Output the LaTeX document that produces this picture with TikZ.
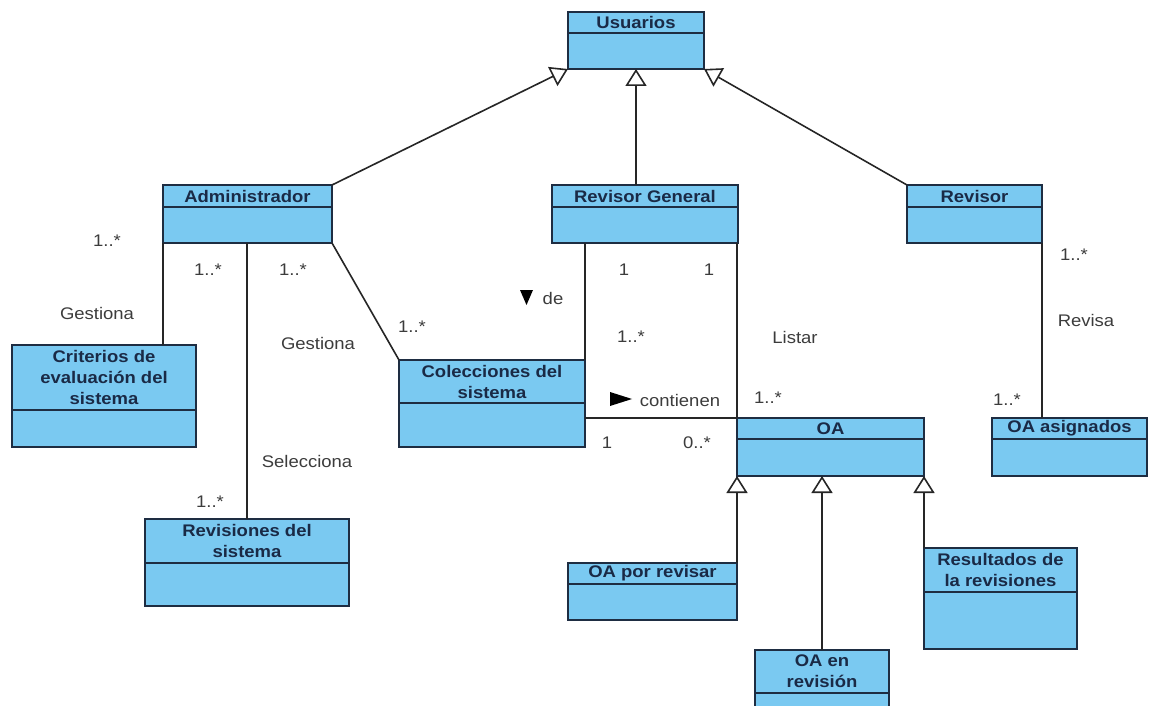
\documentclass[tikz,border=0pt]{standalone}
\usepackage{fontspec}
\setmainfont{Liberation Sans}[FakeStretch=1.1]
\usetikzlibrary{arrows.meta}

\definecolor{classfill}{RGB}{122,201,241}
\definecolor{classedge}{RGB}{30,45,66}
\definecolor{classtext}{RGB}{26,42,70}
\definecolor{labeltext}{RGB}{60,60,60}

\tikzset{
  classbox/.style={draw=classedge, fill=classfill, line width=1.7pt, inner sep=0pt, outer sep=0pt, anchor=north west},
  divider/.style={draw=classedge, line width=1.5pt},
  classname/.style={text=classtext, font=\fontsize{16.8}{21}\selectfont\bfseries, align=center, inner sep=0pt},
  assoc/.style={draw=black!85, line width=1.6pt},
  gen/.style={draw=black!85, line width=1.6pt, -{Triangle[open, length=17pt, width=21pt, line width=1.6pt]}},
  lbl/.style={text=labeltext, font=\fontsize{16.8}{21}\selectfont, inner sep=0pt},
  roletip/.style={fill=black}
}

% #1 name, #2 left, #3 top, #4 right, #5 bottom, #6 header line, #7 title
\newcommand\umlclass[7]{%
  \node[classbox, minimum width={(#4-#2)*1pt}, minimum height={(#5-#3)*1pt}] (#1) at (#2,#3) {};
  \draw[divider] (#2,#6) -- (#4,#6);
  \node[classname] (#1-name) at ({(#2+#4)/2},{(#3+#6)/2}) {#7};
}

\begin{document}
\begin{tikzpicture}[x=1pt, y=-1pt]
\useasboundingbox (0,0) rectangle (1152,706);
\fill[white] (0,0) rectangle (1152,706);

% classes
\umlclass{usu}{568}{12}{704}{69}{33}{Usuarios}
\umlclass{adm}{163}{185}{332}{243}{207}{Administrador}
\umlclass{rgen}{552}{185}{738}{243}{207}{Revisor General}
\umlclass{rvr}{907}{185}{1042}{243}{207}{Revisor}
\umlclass{crit}{12}{345}{196}{447}{410}{Criterios de\\evaluación del\\sistema}
\umlclass{col}{399}{360}{585}{447}{403}{Colecciones del\\sistema}
\umlclass{oa}{737}{418}{924}{476}{439}{OA}
\umlclass{oaa}{992}{418}{1147}{476}{439}{OA asignados}
\umlclass{revs}{145}{519}{349}{606}{563}{Revisiones del\\sistema}
\umlclass{opr}{568}{563}{737}{620}{584}{OA por revisar}
\umlclass{res}{924}{548}{1077}{649}{592}{Resultados de\\la revisiones}
\umlclass{oae}{755}{650}{889}{712}{693}{OA en\\revisión}

% generalizations
\draw[gen] (adm.north east) -- (usu.south west);
\draw[gen] (usu.south |- rgen.north) -- (usu.south);
\draw[gen] (rvr.north west) -- (usu.south east);
\draw[gen] (opr.north east) -- (opr.north east |- oa.south);
\draw[gen] (oae.north) -- (oae.north |- oa.south);
\draw[gen] (res.north west) -- (res.north west |- oa.south);

% associations
\draw[assoc] (adm.south west) -- (adm.south west |- crit.north);
\draw[assoc] (revs.north |- adm.south) -- (revs.north);
\draw[assoc] (adm.south east) -- (col.north west);
\draw[assoc] (col.north east |- rgen.south) -- (col.north east);
\draw[assoc] (oa.north west |- rgen.south) -- (oa.north west);
\draw[assoc] (col.east |- oa.north) -- (oa.north west);
\draw[assoc] (rvr.south east) -- (rvr.south east |- oaa.north);

% association labels and multiplicities
\node[lbl] (m1) at (107,241) {1..*};
\node[lbl] (g1) at (97,313) {Gestiona};
\node[lbl] (m2) at (208,270) {1..*};
\node[lbl] (m3) at (293,270) {1..*};
\node[lbl] (g2) at (318,343) {Gestiona};
\node[lbl] (m4) at (412,327) {1..*};
\node[lbl] (sel) at (307,461) {Selecciona};
\node[lbl] (m5) at (210,502) {1..*};
\node[lbl] (de) at (553,298) {de};
\fill[roletip] (520,290) -- (533,290) -- (526.5,305) -- cycle;
\node[lbl] (m6) at (624,270) {1};
\node[lbl] (m7) at (709,270) {1};
\node[lbl] (m8) at (631,337) {1..*};
\node[lbl] (lst) at (795,337) {Listar};
\node[lbl] (cont) at (680,400) {contienen};
\fill[roletip] (610,392) -- (632,399) -- (610,406) -- cycle;
\node[lbl] (m9) at (768,398) {1..*};
\node[lbl] (m10) at (607,443) {1};
\node[lbl] (m11) at (697,443) {0..*};
\node[lbl] (m12) at (1074,255) {1..*};
\node[lbl] (rvs) at (1086,320) {Revisa};
\node[lbl] (m13) at (1007,400) {1..*};
\end{tikzpicture}
\end{document}
